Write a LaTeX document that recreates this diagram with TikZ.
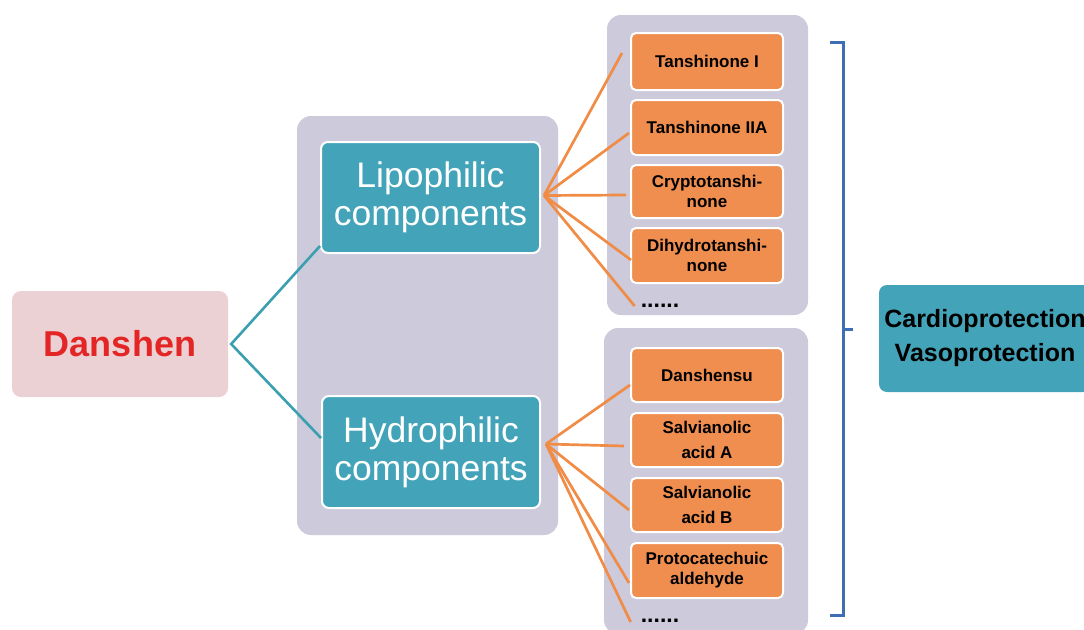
\documentclass[tikz,border=0pt]{standalone}
\usepackage{fontspec}
\setmainfont{Liberation Sans}
\begin{document}
\begin{tikzpicture}[x=1pt,y=-1pt,
  panel/.style={fill=lav, draw=none, rounded corners=14pt, inner sep=0pt},
  compbox/.style={fill=tealbox, draw=white, line width=2pt, rounded corners=7pt, inner sep=0pt,
     text=white, align=center, font=\fontsize{35.5}{38}\selectfont},
  chem/.style={fill=orangebox, draw=white, line width=2pt, rounded corners=5pt, inner sep=0pt,
     minimum width=152pt, align=center, font=\bfseries\fontsize{17}{20}\selectfont},
  dotsnode/.style={inner sep=0pt, font=\bfseries\fontsize{23}{23}\selectfont},
  tealline/.style={draw=tealline, line width=2.6pt},
  orline/.style={draw=orline, line width=2.7pt}
]
\definecolor{lav}{HTML}{CCCADB}
\definecolor{tealbox}{HTML}{43A3B8}
\definecolor{pinkbox}{HTML}{EBD1D3}
\definecolor{redtext}{HTML}{E42526}
\definecolor{orangebox}{HTML}{F08E50}
\definecolor{bracecol}{HTML}{3E6FB5}
\definecolor{tealline}{HTML}{3AA0B0}
\definecolor{orline}{HTML}{F08C45}

\useasboundingbox[fill=white] (0,0) rectangle (1084,629);

% panels
\node[panel, minimum width=261pt, minimum height=419pt] (bigp) at (427.5,325.5) {};
\node[panel, minimum width=201pt, minimum height=300pt] (upp) at (707.5,165) {};
\node[panel, minimum width=204pt, minimum height=306pt] (lowp) at (706,481) {};

% main boxes
\node[fill=pinkbox, rounded corners=9pt, inner sep=0pt, minimum width=216pt, minimum height=106pt,
  text=redtext, font=\bfseries\fontsize{36}{40}\selectfont] (dan) at (120,344) {Danshen};
\node[compbox, minimum width=219pt, minimum height=111pt] (lipo) at (430.5,197.5) {Lipophilic\\components};
\node[compbox, minimum width=218pt, minimum height=112pt] (hydro) at (431,452) {Hydrophilic\\components};

% chemicals
\node[chem, minimum height=57pt] (t1) at (707,61.5) {Tanshinone I};
\node[chem, minimum height=55pt] (t2) at (707,127.5) {Tanshinone IIA};
\node[chem, minimum height=53pt] (t3) at (707,191.5) {Cryptotanshi-\\none};
\node[chem, minimum height=55pt] (t4) at (707,255.5) {Dihydrotanshi-\\none};
\node[dotsnode] (dots1) at (660,306) {......};

\node[chem, minimum height=54pt] (d1) at (707,375) {Danshensu};
\node[chem, minimum height=54pt, font=\bfseries\fontsize{17}{25}\selectfont] (d2) at (707,440) {Salvianolic\\acid A};
\node[chem, minimum height=54pt, font=\bfseries\fontsize{17}{25}\selectfont] (d3) at (707,505) {Salvianolic\\acid B};
\node[chem, minimum height=55pt] (d4) at (707,570.5) {Protocatechuic\\aldehyde};
\node[dotsnode] (dots2) at (660,621) {......};

% result box
\node[fill=tealbox, rounded corners=8pt, inner sep=0pt, minimum width=212pt, minimum height=107pt,
  align=center, font=\bfseries\fontsize{25}{34}\selectfont] (cardio) at (985,338.5) {Cardioprotection\\Vasoprotection};

% connectors
\draw[tealline] ([yshift=8pt]lipo.south west) -- ([xshift=3pt]dan.east) -- ([yshift=14pt]hydro.west);

\coordinate (ls) at ([xshift=3pt,yshift=2pt]lipo.east);
\draw[orline] (ls) -- ([shift={(-8pt,8.5pt)}]t1.west);
\draw[orline] (ls) -- ([shift={(-1pt,-5.5pt)}]t2.west);
\draw[orline] (ls) -- ([shift={(-4pt,-3.5pt)}]t3.west);
\draw[orline] (ls) -- ([shift={(1pt,-4.5pt)}]t4.west);
\draw[orline] (ls) -- ([xshift=-6pt]dots1.west);

\coordinate (hs) at ([xshift=5pt,yshift=8pt]hydro.east);
\draw[orline] (hs) -- ([yshift=-10pt]d1.west);
\draw[orline] (hs) -- ([shift={(-6pt,-6pt)}]d2.west);
\draw[orline] (hs) -- ([shift={(-1pt,-5pt)}]d3.west);
\draw[orline] (hs) -- ([shift={(-1pt,-12.5pt)}]d4.west);
\draw[orline] (hs) -- ([xshift=-10pt,yshift=-1pt]dots2.west);

% brace
\draw[draw=bracecol, line width=3pt] (830,42) -- (843,42) -- (843,615) -- (830,615);
\draw[draw=bracecol, line width=3pt] (843,329) -- (853,329);
\end{tikzpicture}
\end{document}
